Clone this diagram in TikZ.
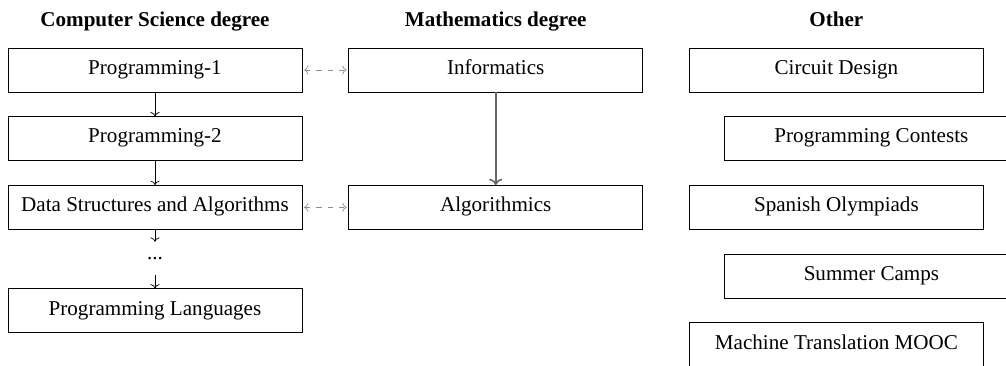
\documentclass[tikz,border=0pt]{standalone}
\usepackage{fontspec}
\setmainfont{Liberation Serif}
\usepackage{tikz}
\usetikzlibrary{arrows.meta,positioning}

\begin{document}
\begin{tikzpicture}[
  font=\fontsize{12}{14}\selectfont,
  box/.style={draw, align=center, minimum width=5.88cm, minimum height=0.88cm, inner sep=3pt, text height=0.7em, text depth=0.22em},
  head/.style={font=\fontsize{12}{14}\selectfont\bfseries, text height=0.7em, text depth=0.22em},
  arr/.style={->},
  link/.style={<->, dash pattern=on 3pt off 3.5pt, black!45, shorten <=1pt, shorten >=1pt},
  garr/.style={->, black!60, line width=0.9pt}
]
\useasboundingbox (0,0) rectangle (20.12,-7.3);
% Computer Science column
\node[box] (cs1) at (3.1,-1.4) {Programming-1};
\node[box, below=0.48cm of cs1] (cs2) {Programming-2};
\node[box, below=0.48cm of cs2] (cs3) {Data Structures and Algorithms};
\node[below=0.24cm of cs3, minimum height=0.66cm, inner sep=0pt] (dots) {...};
\node[box, below=0.26cm of dots] (cs5) {Programming Languages};
\node[head, above=0.23cm of cs1] (hcs) {Computer Science degree};
% Mathematics column
\node[box, right=0.92cm of cs1] (m1) {Informatics};
\node[box, right=0.92cm of cs3] (m2) {Algorithmics};
\node[head, above=0.23cm of m1] (hm) {Mathematics degree};
% Other
\node[box, right=0.92cm of m1] (o1) {Circuit Design};
\node[box, below=0.48cm of o1, xshift=0.7cm] (o2) {Programming Contests};
\node[box, below=0.48cm of o2, xshift=-0.7cm] (o3) {Spanish Olympiads};
\node[box, below=0.48cm of o3, xshift=0.7cm] (o4) {Summer Camps};
\node[box, below=0.48cm of o4, xshift=-0.7cm] (o5) {Machine Translation MOOC};
\node[head, above=0.23cm of o1] (ho) {Other};
\draw[arr] (cs1) -- (cs2);
\draw[arr] (cs2) -- (cs3);
\draw[arr] (cs3) -- (dots);
\draw[arr] (dots) -- (cs5);
\draw[link] (cs1) -- (m1);
\draw[link] (cs3) -- (m2);
\draw[garr] (m1) -- (m2);
\end{tikzpicture}
\end{document}
